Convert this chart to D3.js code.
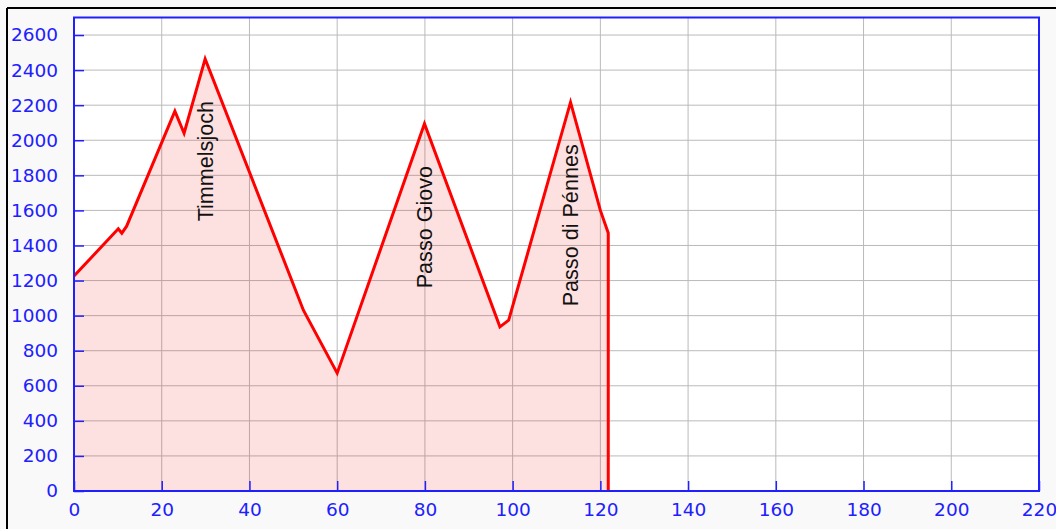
<!DOCTYPE html>
<html>
<head>
<meta charset="utf-8">
<script src="https://cdn.jsdelivr.net/npm/d3@7"></script>
<style>
  html, body { margin: 0; padding: 0; background: #f9f9f9; }
  svg { display: block; }
</style>
</head>
<body>
<svg id="chart" width="1056" height="529"></svg>
<script>
// Distance (km) and elevation (m) of the profile
const distanceKm = [0, 10.1, 10.9, 12.0, 23.0, 25.1, 29.9, 52.3, 60.0, 79.9, 97.1, 99.1, 113.2, 120.0, 121.8, 121.8];
const elevationM = [1226, 1495, 1470, 1510, 2166, 2040, 2464, 1031, 672, 2094, 936, 974, 2217, 1600, 1471, 0];

// Pass labels
const passNames = ["Timmelsjoch", "Passo Giovo", "Passo di Pénnes"];
const passKm = [29.9, 79.9, 113.2];
const passElev = [2464, 2094, 2217];

// Axis ticks
const xTicks = [0, 20, 40, 60, 80, 100, 120, 140, 160, 180, 200, 220];
const yTicks = [0, 200, 400, 600, 800, 1000, 1200, 1400, 1600, 1800, 2000, 2200, 2400, 2600];

(function () {
const svg = d3.select("#chart");
const W = 1056, H = 529;
const mLeft = 74, mRight = 1039, mTop = 17.5, mBottom = 491;

svg.append("rect").attr("x", 0).attr("y", 0).attr("width", W).attr("height", H).attr("fill", "#f9f9f9");
// outer black frame (top & left visible)
svg.append("line").attr("x1", 7).attr("x2", W).attr("y1", 8).attr("y2", 8).attr("stroke", "#000").attr("stroke-width", 2);
svg.append("line").attr("x1", 7).attr("x2", 7).attr("y1", 8).attr("y2", H).attr("stroke", "#000").attr("stroke-width", 2);

const x = d3.scaleLinear().domain([0, 220]).range([mLeft, mRight]);
const y = d3.scaleLinear().domain([0, 2700]).range([mBottom, mTop]);

svg.append("rect").attr("x", mLeft).attr("y", mTop).attr("width", mRight - mLeft).attr("height", mBottom - mTop).attr("fill", "#fff");

// grid
const grid = svg.append("g");
grid.selectAll(".gx").data(xTicks.slice(1, -1)).join("line")
  .attr("x1", d => x(d)).attr("x2", d => x(d)).attr("y1", mTop).attr("y2", mBottom)
  .attr("stroke", "#bababa").attr("stroke-width", 1);
grid.selectAll(".gy").data(yTicks.slice(1)).join("line")
  .attr("x1", mLeft).attr("x2", mRight).attr("y1", d => y(d)).attr("y2", d => y(d))
  .attr("stroke", "#bababa").attr("stroke-width", 1);

const pts = distanceKm.map((d, i) => [d, elevationM[i]]);

const area = d3.area().x(d => x(d[0])).y0(y(0)).y1(d => y(d[1]));
svg.append("path").datum(pts).attr("d", area).attr("fill", "rgba(240,0,0,0.12)");

const line = d3.line().x(d => x(d[0])).y(d => y(d[1]));
svg.append("path").datum(pts).attr("d", line).attr("fill", "none")
  .attr("stroke", "#ff0000").attr("stroke-width", 3).attr("stroke-linejoin", "miter");

// labels
svg.selectAll(".pass").data(passNames).join("text")
  .attr("transform", (d, i) => `translate(${x(passKm[i])},${y(passElev[i] - 240)}) rotate(-90)`)
  .attr("text-anchor", "end")
  .attr("dy", "0.35em")
  .attr("font-family", "'Liberation Sans', Arial, sans-serif")
  .attr("font-size", 21.6)
  .attr("fill", "#111")
  .text(d => d);

// axes
const blue = "#2020ff";
const xAxis = d3.axisBottom(x).tickValues(xTicks).tickSize(-10).tickPadding(12).tickFormat(d3.format("d"));
const yAxis = d3.axisLeft(y).tickValues(yTicks).tickSize(-10).tickPadding(16).tickFormat(d3.format("d"));

const gx = svg.append("g").attr("transform", `translate(0,${mBottom})`).call(xAxis);
const gy = svg.append("g").attr("transform", `translate(${mLeft},0)`).call(yAxis);
[gx, gy].forEach(g => {
  g.select(".domain").remove();
  g.selectAll(".tick line").attr("stroke", blue).attr("stroke-width", 1.5);
  g.selectAll(".tick text").attr("fill", blue)
    .attr("font-family", "'DejaVu Sans', Verdana, sans-serif").attr("font-size", 18.5);
});
gy.selectAll(".tick text").attr("x", -16);

// plot frame
svg.append("rect").attr("x", mLeft).attr("y", mTop).attr("width", mRight - mLeft).attr("height", mBottom - mTop)
  .attr("fill", "none").attr("stroke", blue).attr("stroke-width", 2);
})();
</script>
</body>
</html>
